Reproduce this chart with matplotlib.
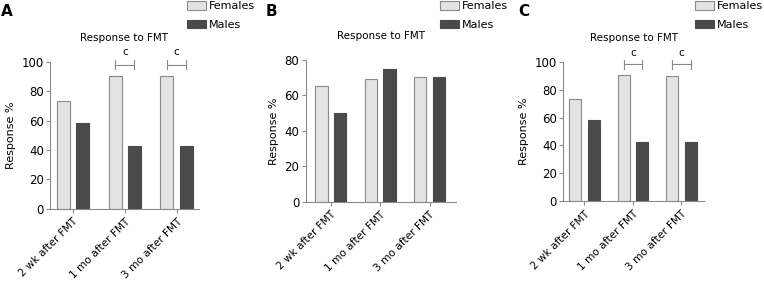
import matplotlib
matplotlib.use("Agg")
import matplotlib.pyplot as plt
import numpy as np
from matplotlib.patches import Patch

categories = ["2 wk after FMT", "1 mo after FMT", "3 mo after FMT"]
series_names = ["Females", "Males"]
a_females = [73, 90.5, 90]
a_males = [58, 42.5, 42.5]
b_females = [65, 69, 70]
b_males = [50, 75, 70]
c_females = [73, 90.5, 90]
c_males = [58, 42.3, 42.3]
panel_letters = ["A", "B", "C"]
sig_labels = ["c", "c"]

FEM = "#e3e3e3"
MAL = "#4a4a4a"
EDGE = "#8a8a8a"
SPINE = "#8a8a8a"
FS = 7.5

W, H = 764, 281
fig = plt.figure(figsize=(W / 100, H / 100), dpi=100)

def px_axes(x0, x1, ytop, ybot):
    return fig.add_axes([x0 / W, (H - ybot) / H, (x1 - x0) / W, (ybot - ytop) / H])

panels = [
    dict(box=(50, 199, 61.7, 208.7), xlim=(-0.44, 2.43), ymax=100, yt=[0, 20, 40, 60, 80, 100],
         fem=a_females, mal=a_males, sig=True, letter_x=1, leg_x=187),
    dict(box=(305.7, 456, 59.7, 202), xlim=(-0.505, 2.535), ymax=80, yt=[0, 20, 40, 60, 80],
         fem=b_females, mal=b_males, sig=False, letter_x=266, leg_x=440),
    dict(box=(563.3, 704, 61.7, 201.3), xlim=(-0.437, 2.464), ymax=100, yt=[0, 20, 40, 60, 80, 100],
         fem=c_females, mal=c_males, sig=True, letter_x=518, leg_x=695),
]

bw = 0.25
off = 0.187
x = np.arange(len(categories))

for letter, p in zip(panel_letters, panels):
    x0, x1, yt_, yb_ = p["box"]
    ax = px_axes(x0, x1, yt_, yb_)
    ax.bar(x - off, p["fem"], bw, color=FEM, edgecolor=EDGE, linewidth=0.8)
    ax.bar(x + off, p["mal"], bw, color=MAL, edgecolor=MAL, linewidth=0.8)
    ax.set_xlim(*p["xlim"])
    ax.set_ylim(0, p["ymax"])
    ax.set_yticks(p["yt"])
    ax.set_xticks(x)
    ax.set_xticklabels(categories, rotation=45, ha="right", rotation_mode="anchor", fontsize=7.6)
    ax.tick_params(axis="y", labelsize=8.5, length=3, color=SPINE, width=0.8, pad=1.5)
    ax.tick_params(axis="x", length=3, color=SPINE, width=0.8, pad=2.5)
    for s in ["top", "right"]:
        ax.spines[s].set_visible(False)
    for s in ["left", "bottom"]:
        ax.spines[s].set_color(SPINE)
        ax.spines[s].set_linewidth(0.8)
    ax.set_title("Response to FMT", fontsize=FS, pad=15)
    ax.set_ylabel("Response %", fontsize=8, labelpad=4)
    if p["sig"]:
        for i, lab in zip([1, 2], sig_labels):
            yb = 98
            xl, xr = i - off, i + off
            ax.plot([xl, xr], [yb, yb], color=EDGE, lw=0.8, clip_on=False)
            ax.plot([xl, xl], [yb - 3, yb + 3], color=EDGE, lw=0.8, clip_on=False)
            ax.plot([xr, xr], [yb - 3, yb + 3], color=EDGE, lw=0.8, clip_on=False)
            ax.text(i, yb + 5, lab, ha="center", va="bottom", fontsize=FS)
    fig.text(p["letter_x"] / W, 1 - 4 / H, letter, fontsize=11, fontweight="bold", ha="left", va="top")
    handles = [Patch(facecolor=FEM, edgecolor=EDGE, linewidth=0.8),
               Patch(facecolor=MAL, edgecolor=MAL, linewidth=0.8)]
    fig.legend(handles, series_names, loc="upper left",
               bbox_to_anchor=(p["leg_x"] / W, 1 - 1 / H), frameon=False, fontsize=FS + 0.5,
               handlelength=1.75, handleheight=0.85, handletextpad=0.2, labelspacing=0.75,
               borderaxespad=0, borderpad=0)

fig.savefig("out.png", dpi=100)
